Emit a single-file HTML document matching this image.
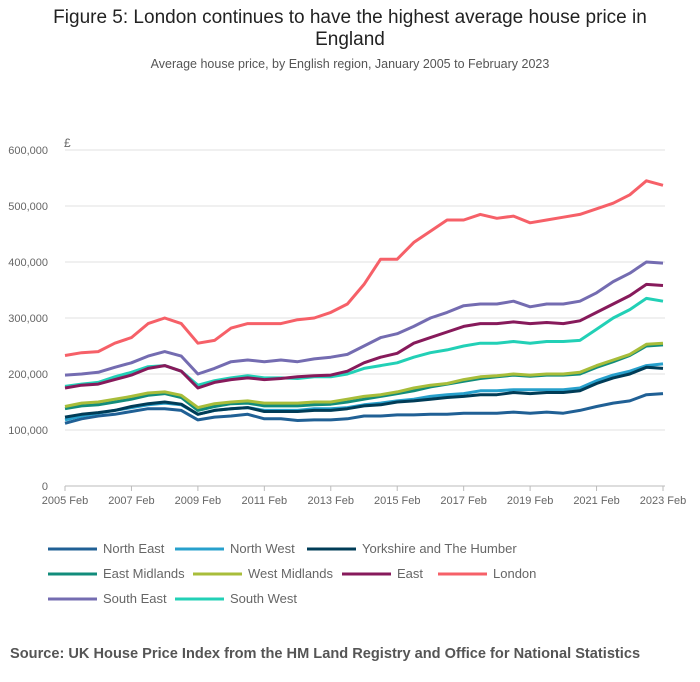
<!DOCTYPE html>
<html><head><meta charset="utf-8"><style>
body{margin:0;background:#fff;font-family:"Liberation Sans",sans-serif;}
#wrap{position:relative;width:700px;height:682px;overflow:hidden}
.t{position:absolute;left:0;width:700px;text-align:center}
</style></head><body>
<div id="wrap">
<div class="t" style="top:7px;font-size:19px;line-height:22px;color:#222">Figure 5: London continues to have the highest average house price in<br>England</div>
<div class="t" style="top:57px;font-size:12.5px;color:#555">Average house price, by English region, January 2005 to February 2023</div>
<svg id="chart" width="700" height="640" style="position:absolute;left:0;top:0"></svg>
<div style="position:absolute;left:10px;top:646px;font-size:14.6px;font-weight:bold;color:#555">Source: UK House Price Index from the HM Land Registry and Office for National Statistics</div>
</div>
<script>
const yTicks=[0,100000,200000,300000,400000,500000,600000];
const yTickLabels=["0","100,000","200,000","300,000","400,000","500,000","600,000"];
const xTickYears=[2005,2007,2009,2011,2013,2015,2017,2019,2021,2023];
const xTickLabels=["2005 Feb","2007 Feb","2009 Feb","2011 Feb","2013 Feb","2015 Feb","2017 Feb","2019 Feb","2021 Feb","2023 Feb"];
// semi-annual observations (Feb, Aug) 2005 Feb .. 2023 Feb, in £ thousands
const seriesNames=["North East","North West","Yorkshire and The Humber","East Midlands","West Midlands","East","London","South East","South West"];
const northEast=[112,120,125,128,133,138,138,135,118,123,125,128,120,120,117,118,118,120,125,125,127,127,128,128,130,130,130,132,130,132,130,135,142,148,152,163,165];
const northWest=[118,125,130,135,140,145,148,145,128,135,138,140,135,135,135,138,138,140,145,148,152,155,160,163,165,170,170,172,172,172,172,175,188,198,205,215,218];
const yorkshire=[123,128,131,135,142,147,150,146,128,135,138,140,133,133,133,135,135,138,143,145,150,152,155,158,160,163,163,167,165,167,167,170,183,193,200,212,210];
const eastMidlands=[138,143,145,150,155,162,165,158,135,142,147,148,143,143,143,145,146,150,155,160,165,170,177,182,187,192,195,198,196,198,198,200,212,222,233,250,252];
const westMidlands=[142,148,150,155,160,166,168,162,140,147,150,152,148,148,148,150,150,155,160,163,168,175,180,183,190,195,197,200,198,200,200,203,215,225,235,253,255];
const east=[175,180,182,190,198,210,215,205,175,185,190,193,190,192,195,197,198,205,220,230,237,255,265,275,285,290,290,293,290,292,290,295,310,325,340,360,358];
const london=[233,238,240,255,265,290,300,290,255,260,282,290,290,290,297,300,310,325,360,405,405,435,455,475,475,485,478,482,470,475,480,485,495,505,520,545,537];
const southEast=[198,200,203,212,220,232,240,232,200,210,222,225,222,225,222,227,230,235,250,265,272,285,300,310,322,325,325,330,320,325,325,330,345,365,380,400,398];
const southWest=[178,182,185,195,203,213,215,205,180,188,193,197,193,193,192,195,195,200,210,215,220,230,238,243,250,255,255,258,255,258,258,260,280,300,315,335,330];

const seriesData=[northEast,northWest,yorkshire,eastMidlands,westMidlands,east,london,southEast,southWest];
const colors=["#206095","#27a0cc","#003c57","#118c7b","#a8bd3a","#871a5b","#f66068","#746cb1","#22d0b6"];
const drawOrder=[0,1,2,3,4,8,5,7,6];
const NS="http://www.w3.org/2000/svg";
const svg=document.getElementById('chart');
const X0=65,X1=663,Y0=486,Y600=150;
const xs=t=>X0+(t-2005)/(2023-2005)*(X1-X0);
const ys=v=>Y0-(v/600000)*(Y0-Y600);
function mk(tag,attrs){const e=document.createElementNS(NS,tag);for(const k in attrs)e.setAttribute(k,attrs[k]);svg.appendChild(e);return e;}
yTicks.forEach((v,i)=>{
  const g=mk('line',{x1:X0,x2:X1+2,y1:ys(v),y2:ys(v),stroke:v===0?'#bbb':'#e2e2e2','stroke-width':1});
  
  
  const t=mk('text',{x:48,y:ys(v)+4,'text-anchor':'end','font-size':11,fill:'#666'});
  t.textContent=yTickLabels[i];
  
  
});
const pound=mk('text',{x:64,y:147,'font-size':12,fill:'#666'});pound.textContent='£';


xTickYears.forEach((yr,i)=>{
  const tk=mk('line',{x1:xs(yr),x2:xs(yr),y1:Y0,y2:Y0+5,stroke:'#bbb'});
  
  
  const t=mk('text',{x:xs(yr),y:Y0+18,'text-anchor':'middle','font-size':11,fill:'#666'});
  t.textContent=xTickLabels[i];
  
  
});
drawOrder.forEach(si=>{
  const d=seriesData[si].map((v,j)=>(j?'L':'M')+xs(2005+j*0.5).toFixed(1)+','+ys(v*1000).toFixed(1)).join(' ');
  const p=mk('path',{d:d,fill:'none',stroke:colors[si],'stroke-width':3,'stroke-linejoin':'round'});
  
  
});
const legendPos=[[48,549],[175,549],[307,549],[48,574],[193,574],[342,574],[438,574],[48,599],[175,599]];
legendPos.forEach((p,i)=>{
  const l=mk('line',{x1:p[0],x2:p[0]+49,y1:p[1],y2:p[1],stroke:colors[i],'stroke-width':3});
  
  
  const t=mk('text',{x:p[0]+55,y:p[1]+4,'font-size':13,fill:'#666'});
  t.textContent=seriesNames[i];
  
  
});
</script>
</body></html>
